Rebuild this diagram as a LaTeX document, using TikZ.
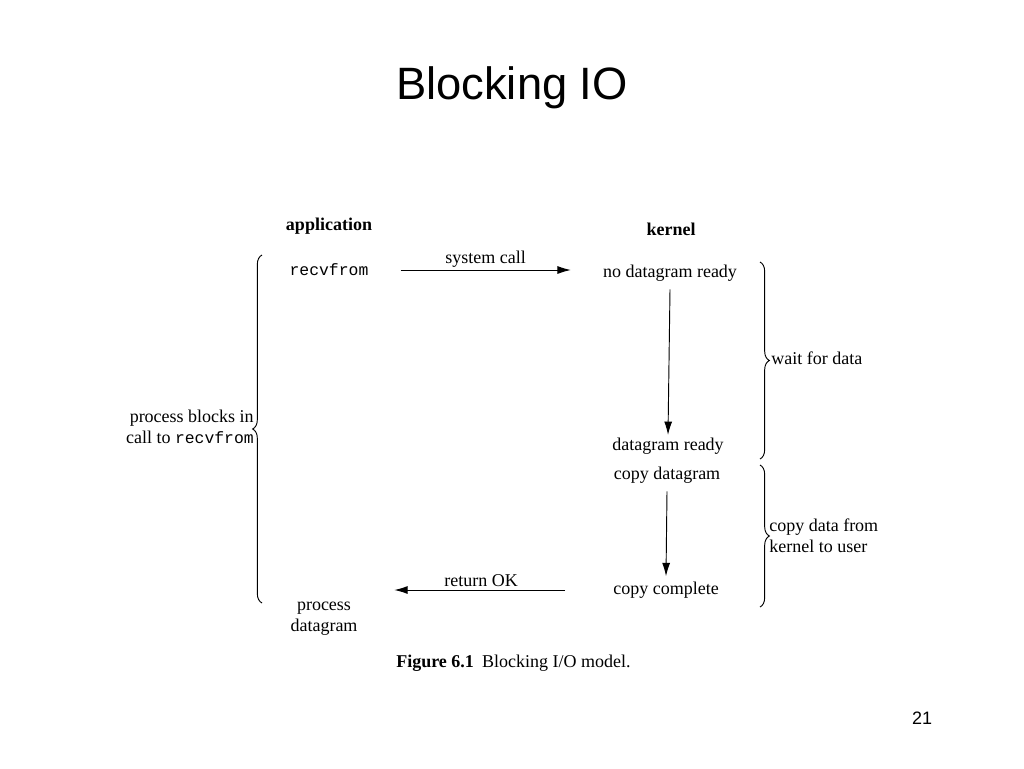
\documentclass[tikz,border=0pt]{standalone}
\usepackage{fontspec}
\setmainfont{Liberation Serif}
\setsansfont{Liberation Sans}
\setmonofont{Liberation Mono}
\usetikzlibrary{arrows.meta,decorations.pathreplacing}
\tikzset{
  lbl/.style={font=\fontsize{13.5}{16}\selectfont, inner sep=0pt, align=center},
  hdr/.style={font=\fontsize{13.5}{16}\selectfont\bfseries, inner sep=0pt},
  flow/.style={line width=0.7pt, -{Latex[length=10pt,width=6pt]}},
  bracecurl/.style={line width=0.7pt, decorate, decoration={brace, amplitude=7pt}},
}
\begin{document}
\begin{tikzpicture}[x=0.75pt,y=-0.75pt]
\useasboundingbox (0,0) rectangle (1024,768);
% title and page number
\node[font=\sffamily\fontsize{34}{40}\selectfont, inner sep=0pt] (title) at (512,88) {Blocking IO};
\node[font=\sffamily\fontsize{13.5}{16}\selectfont, inner sep=0pt] (page) at (922,718) {21};
% headers
\node[hdr] (app) at (329,226) {application};
\node[hdr] (kern) at (671,229) {kernel};
% application side
\node[lbl, font=\ttfamily\fontsize{12.3}{16}\selectfont] (recv) at (329,270) {recvfrom};
\node[lbl] (proc) at (324,619) {process\\datagram};
% kernel side
\node[lbl] (nodr) at (670,273) {no datagram ready};
\node[lbl] (dr) at (668,446) {datagram ready};
\node[lbl] (cpd) at (667,475) {copy datagram};
\node[lbl] (cpc) at (666,590) {copy complete};
% arrows
\draw[flow, shorten <=24pt, shorten >=24pt] (recv.east) -- node[lbl, above=1.5pt] (sc) {system call} (recv.east -| nodr.west);
\draw[flow] ([yshift=-6pt]nodr.south) -- ([yshift=2pt]dr.north);
\draw[flow] ([yshift=-6pt]cpd.south) -- ([yshift=4pt]cpc.north);
\draw[flow, shorten <=36pt] (cpc.west) -- node[lbl, above=2pt, xshift=-17pt] (rok) {return OK} ([xshift=-164pt]cpc.west);
% braces
\coordinate (lbTop) at (262,255);
\coordinate (lbBot) at (262,603);
\draw[bracecurl] (lbBot) -- (lbTop);
\node[lbl, anchor=east, align=right] (pbl) at (254,427) {process blocks in\\call to \texttt{\fontsize{12.3}{16}\selectfont recvfrom}};
\coordinate (rb1Top) at (760,262);
\coordinate (rb1Bot) at (760,459);
\draw[bracecurl] (rb1Top) -- (rb1Bot);
\node[lbl, anchor=west] (wfd) at (771,358) {wait for data};
\coordinate (rb2Top) at (760,465);
\coordinate (rb2Bot) at (760,607);
\draw[bracecurl] (rb2Top) -- (rb2Bot);
\node[lbl, anchor=west, align=left] (cdk) at (769,536) {copy data from\\kernel to user};
% caption
\node[lbl, anchor=west] (cap) at (396,663) {\textbf{Figure 6.1}\hspace{0.45em}Blocking I/O model.};
\end{tikzpicture}
\end{document}
